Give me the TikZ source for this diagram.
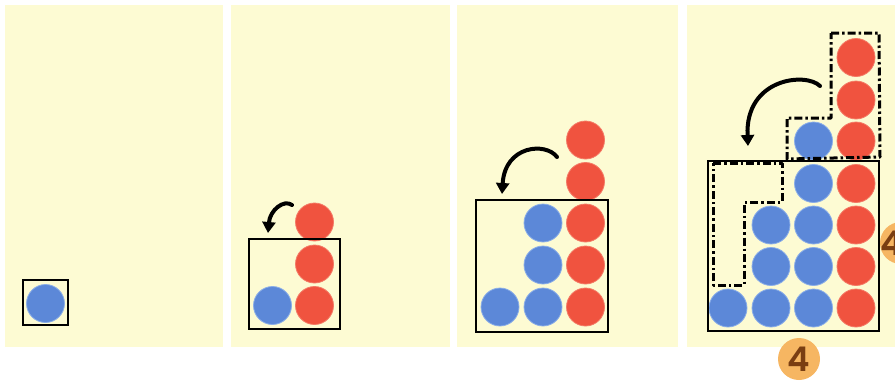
\documentclass[tikz,border=0pt]{standalone}
\usepackage{fontspec}
\setmainfont{Poppins}
\newfontfamily\numfont{Poppins SemiBold}
\usetikzlibrary{arrows.meta}
\definecolor{panelbg}{HTML}{FDFBD3}
\definecolor{dotblue}{HTML}{5C88D8}
\definecolor{dotblueedge}{HTML}{8BAEE8}
\definecolor{dotred}{HTML}{F0533F}
\definecolor{dotrededge}{HTML}{F47A66}
\definecolor{badge}{HTML}{F6B662}
\definecolor{badgetext}{HTML}{7A3E12}
\tikzset{
  panel/.style={fill=panelbg, draw=none},
  bdot/.style={circle, fill=dotblue, draw=dotblueedge, line width=0.8pt, minimum size=38pt, inner sep=0pt},
  rdot/.style={circle, fill=dotred, draw=dotrededge, line width=0.8pt, minimum size=38pt, inner sep=0pt},
  frame/.style={draw=black, line width=1.8pt},
  handarrow/.style={line width=4pt, line cap=round, -{Triangle[width=13pt,length=11pt]}},
  region/.style={draw=black, line width=3pt, dash pattern=on 8pt off 3pt on 2.5pt off 3pt, line join=round},
  badgedisc/.style={circle, fill=badge, minimum size=42pt, inner sep=0pt},
  badgenum/.style={inner sep=0pt, text=badgetext, font=\numfont\fontsize{34}{34}\selectfont}
}
\begin{document}
\begin{tikzpicture}[x=1pt,y=-1pt]
\useasboundingbox (0,0) rectangle (895,383);
\begin{scope}
\clip (0,0) rectangle (895,383);
% panels
\fill[panel] (5,5) rectangle (223,347);
\fill[panel] (231,5) rectangle (450,347);
\fill[panel] (457,5) rectangle (678,347);
\fill[panel] (687,5) rectangle (895,347);

% ---------- panel 1 ----------
\node[bdot] (p1a) at (45.5,303.5) {};
\draw[frame] (23,280) rectangle (68,325);

% ---------- panel 2 ----------
\node[bdot] (p2a) at (272.5,305.5) {};
\node[rdot] (p2b) at (314.5,305.5) {};
\node[rdot] (p2c) at (314.5,264) {};
\node[rdot] (p2d) at (314.5,222) {};
\draw[frame] (249,239) rectangle (340,329);
\coordinate (a2s) at (292,205);
\coordinate (a2e) at (268,233);
\draw[handarrow] (a2s) .. controls (284,199) and (270,210) .. (a2e);

% ---------- panel 3 ----------
\foreach \x/\y/\n in {500/307/a, 543/307/b, 543/265/c, 543/223/d}
  \node[bdot] (p3\n) at (\x,\y) {};
\foreach \y/\n in {307/e, 265/f, 223/g, 181.5/h, 140/i}
  \node[rdot] (p3\n) at (585.5,\y) {};
\draw[frame] (476,200) rectangle (608,332);
\coordinate (a3s) at (557,157);
\coordinate (a3e) at (502,194);
\draw[handarrow] (a3s) .. controls (546,142) and (505,145) .. (a3e);

% ---------- panel 4 ----------
\foreach \x/\y/\n in {728/308/a, 771/308/b, 813.5/308/c,
                      771/266.5/d, 813.5/266.5/e,
                      771/225/f, 813.5/225/g,
                      813.5/183.5/h, 813.5/141/i}
  \node[bdot] (p4\n) at (\x,\y) {};
\foreach \y/\n in {308/j, 266.5/k, 225/l, 183.5/m, 141/n, 100/o, 57.5/p}
  \node[rdot] (p4\n) at (856,\y) {};
\draw[frame] (708,161) rectangle (879,331);

% moving L-shaped group (top right)
\draw[region] (831,33) -- (879,33) -- (880,157) -- (787,159) -- (787,118) -- (831,118) -- cycle;
% target region (left)
\draw[region] (713,163) -- (782,163) -- (782,202) -- (744,202) -- (744,285) -- (713,285) -- cycle;

\coordinate (a4s) at (820,86);
\coordinate (a4e) at (748,146);
\draw[handarrow] (a4s) .. controls (806,72) and (745,78) .. (a4e);

% side counts
\node[badgedisc] (b4b) at (799,359) {};
\node[badgenum] (n4b) at (b4b.center) {4};
\node[badgedisc] (b4r) at (901,243) {};
\node[badgenum] (n4r) at (892,243) {4};
\end{scope}
\end{tikzpicture}
\end{document}
